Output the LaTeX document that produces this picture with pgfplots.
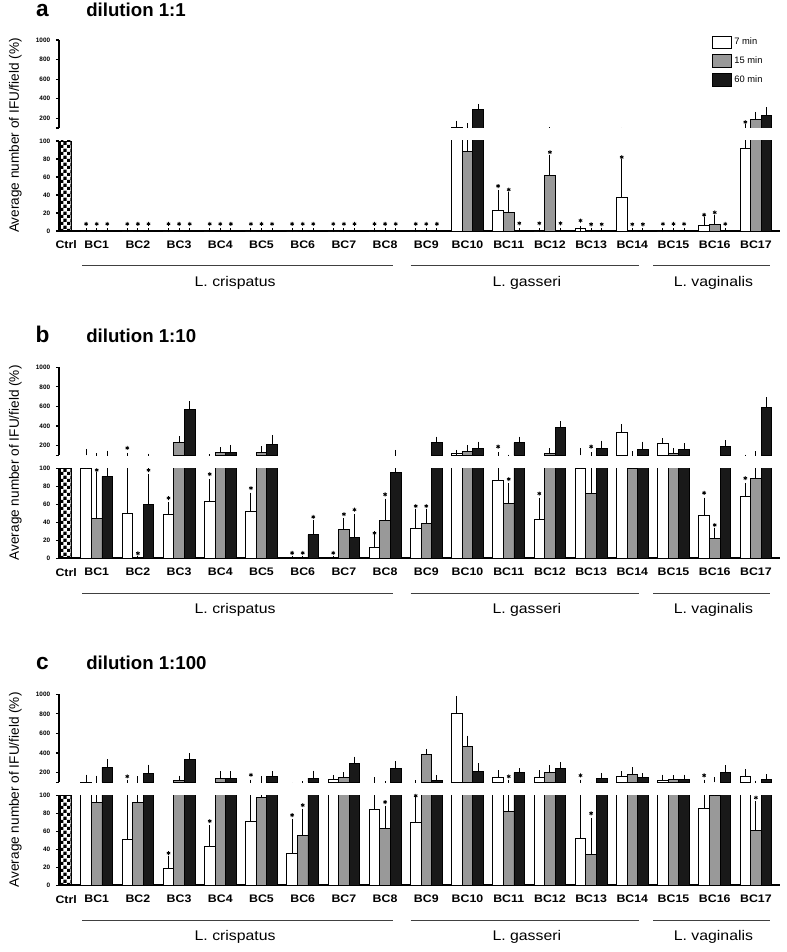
\documentclass[border=0pt]{standalone}
\usepackage{fontspec}
\setmainfont{Liberation Sans}
\newfontfamily\widefont[FakeStretch=1.13]{Liberation Sans}
\usepackage{pgfplots}
\usepackage{pgfplotstable}
\pgfplotsset{compat=1.18}
\usetikzlibrary{patterns}
\definecolor{bargray}{gray}{0.6}
\definecolor{barblack}{gray}{0.1}
\pgfdeclarepatternformonly{smallcheck}{\pgfqpoint{0pt}{0pt}}{\pgfqpoint{5pt}{5pt}}{\pgfqpoint{5pt}{5pt}}{%
  \pgfpathrectangle{\pgfqpoint{0pt}{0pt}}{\pgfqpoint{2.5pt}{2.5pt}}%
  \pgfpathrectangle{\pgfqpoint{2.5pt}{2.5pt}}{\pgfqpoint{2.5pt}{2.5pt}}%
  \pgfusepath{fill}}

% x w we g ge k ke  (value and upward error of 7, 15, 60 min bars)
\pgfplotstableread{
x w we g ge k ke
1 0 0 0 0 0 0
2 0 0 0 0 0 0
3 0 0 0 0 0 0
4 0 0 0 0 0 0
5 0 0 0 0 0 0
6 0 0 0 0 0 0
7 0 0 0 0 0 0
8 0 0 0 0 0 0
9 0 0 0 0 0 0
10 109 41 88 36 288 34
11 22.5 20.5 21 19.5 0 0
12 0 0 62 20 0 0
13 3 0 0 0 0 0
14 37.5 39.5 0 0 0 0
15 0 0 0 0 0 0
16 5.6 6.8 7 8.4 0 0
17 92 24 189 51 227 61
}\dataA
\pgfplotstableread{
x w we g ge k ke
1 100 39 44.7 48 91 30
2 50.2 49.8 0 0 60 31
3 49 10.3 228.5 42.5 569 58
4 63.6 21.9 128.6 28.4 128.6 53.4
5 52 18.2 128.6 39.4 207 75
6 0 0 0 0 26.2 13.8
7 0 0 31.6 10.2 23.6 22.9
8 12 11.6 41.8 21.8 95.3 33.3
9 33.5 18.1 38.9 12.7 230 34
10 120 10 138 41 165 48
11 86.5 17.5 61 19.7 230 34
12 43 21.7 114 34 384 37
13 100 48 71.6 32.4 165 58
14 336 58 100 15 155 58
15 223 27 114 34 155 44
16 48 16.7 22.5 8.5 189 41
17 68.4 12.3 89 25 589 79
}\dataB
\pgfplotstableread{
x w we g ge k ke
1 101 51 92.5 49.5 254 58
2 50.7 51.3 92.5 43.5 193 61
3 19 11.2 119 23 332 41
4 43.3 20.5 142 44 136 50
5 71.3 30.7 97.4 38.6 159 27
6 35.8 35.5 55.2 27.3 142 51
7 125 24 153 23 288 48
8 84.3 40.7 62.7 23.1 237 51
9 70.1 26.2 380 37 119 27
10 806 153 464 88 214 57
11 153 44 81.7 20.3 200 20
12 153 44 197 50 237 44
13 51.5 50.5 34.7 37.3 142 28
14 159 27 176 51 153 13
15 119 34 125 21 125 28
16 85.4 16.6 100 25 200 47
17 159 51 60.8 29.9 125 34
}\dataC

% significance stars (x, y)
\pgfplotstableread{
x y
0.743 7.9
1 7.9
1.257 7.9
1.743 7.9
2 7.9
2.257 7.9
2.743 7.9
3 7.9
3.257 7.9
3.743 7.9
4 7.9
4.257 7.9
4.743 7.9
5 7.9
5.257 7.9
5.743 7.9
6 7.9
6.257 7.9
6.743 7.9
7 7.9
7.257 7.9
7.743 7.9
8 7.9
8.257 7.9
8.743 7.9
9 7.9
9.257 7.9
10.743 50
11 46
11.257 8.6
11.743 8.6
12 87.5
12.257 8.6
12.743 11.6
13 7.5
13.257 7.5
13.743 82
14 7.5
14.257 7.5
14.743 7.9
15 7.9
15.257 7.9
15.743 18
16 20.6
16.257 7.9
}\starsAlow
\pgfplotstableread{
x y
16.743 160
}\starsAup
\pgfplotstableread{
x y
1 98
2 5.5
2.257 98
2.743 67
3.743 93.5
4.743 78
5.743 6
6 6
6.257 46
6.743 6
7 49
7.257 54
7.743 28
8 71
8.743 58
9 58
11 88
11.743 72
15.743 72.7
16 37
16.743 89
}\starsBlow
\pgfplotstableread{
x y
1.743 175
10.743 189
13 189
}\starsBup
\pgfplotstableread{
x y
2.743 35.8
3.743 71.3
5.743 78
6 89
8 92.5
8.743 99.5
13 80
17 97.4
}\starsClow
\pgfplotstableread{
x y
1.743 160
4.743 176
11 160
12.743 170
15.743 170
}\starsCup

\pgfplotsset{
  barbase/.style={ybar, bar width=0.257, bar shift=0, draw=black, line width=0.7pt},
  errstyle/.style={error bars/y dir=plus, error bars/y explicit,
    error bars/error bar style={line width=0.7pt, draw=black, solid},
    error bars/error mark options={line width=0.7pt, draw=black, solid, mark size=1.9pt}},
  erronly/.style={draw=none, mark=none, forget plot, errstyle},
  starplot/.style={only marks, mark=asterisk, mark size=1.5pt,
    mark options={line width=0.6pt, black}},
  common/.style={scale only axis, width=540.75pt, xmin=0.085, xmax=17.585,
    anchor=south west, axis y line*=left,
    axis line style={line width=1.4pt, black},
    tick align=outside, major tick length=2.3pt,
    ytick style={line width=0.9pt, black},
    yticklabel style={font=\bfseries\fontsize{4.8}{5}\selectfont, xshift=-0.8pt},
    /pgf/number format/assume math mode=true,
    /pgf/number format/1000 sep={},
    clip mode=individual},
  lowerax/.style={common, height=67.5pt, ymin=0, ymax=100,
    ytick={0,20,40,60,80,100}, axis x line*=bottom,
    xtick={0.26,1,2,3,4,5,6,7,8,9,10,11,12,13,14,15,16,17},
    xticklabels={Ctrl,BC1,BC2,BC3,BC4,BC5,BC6,BC7,BC8,BC9,BC10,BC11,BC12,BC13,BC14,BC15,BC16,BC17},
    xtick style={draw=none},
    xticklabel style={font=\widefont\bfseries\fontsize{8.2}{9}\selectfont, yshift=-1.5pt},
    ylabel={Average number of IFU/field (\%)},
    ylabel style={at={(axis description cs:-0.0606,1.061)}, anchor=center,
      font=\fontsize{10.2}{12}\selectfont}},
  upperax/.style={common, height=66pt, ymin=100, ymax=1000,
    ytick={200,400,600,800,1000}, extra y ticks={100}, extra y tick labels={},
    axis x line=none, xtick=\empty},
}

% lower (0-100) part: bars with their error bars, clipped at 100
\newcommand{\lowerbars}[1]{%
  \addplot[barbase, fill=white, errstyle] table[x expr=\thisrow{x}-0.257,y=w,y error=we]{#1};
  \addplot[barbase, fill=bargray, errstyle] table[x=x,y=g,y error=ge]{#1};
  \addplot[barbase, fill=barblack, errstyle] table[x expr=\thisrow{x}+0.257,y=k,y error=ke]{#1};
}
% upper (100-1000) part: only bars above 100, and all error bars
\newcommand{\upperbars}[1]{%
  \addplot[barbase, fill=white, restrict y to domain=100.5:5000] table[x expr=\thisrow{x}-0.257,y=w]{#1};
  \addplot[barbase, fill=bargray, restrict y to domain=100.5:5000] table[x=x,y=g]{#1};
  \addplot[barbase, fill=barblack, restrict y to domain=100.5:5000] table[x expr=\thisrow{x}+0.257,y=k]{#1};
  \addplot[erronly] table[x expr=\thisrow{x}-0.257,y=w,y error=we]{#1};
  \addplot[erronly] table[x=x,y=g,y error=ge]{#1};
  \addplot[erronly] table[x expr=\thisrow{x}+0.257,y=k,y error=ke]{#1};
}
\newcommand{\ctrlbar}{%
  \addplot[ybar, bar width=0.26, bar shift=0, draw=black, line width=0.7pt,
    pattern=smallcheck, pattern color=black] coordinates {(0.26,100)};
}
\newcommand{\species}{%
  \draw[line width=0.6pt, black!75] (axis cs:0.65,-38.6) -- (axis cs:8.2,-38.6);
  \draw[line width=0.6pt, black!75] (axis cs:8.62,-38.6) -- (axis cs:14.17,-38.6);
  \draw[line width=0.6pt, black!75] (axis cs:14.51,-38.6) -- (axis cs:17.34,-38.6);
  \node[font=\widefont\fontsize{10.5}{12}\selectfont] at (axis cs:4.36,-57.8) {L. crispatus};
  \node[font=\widefont\fontsize{10.5}{12}\selectfont] at (axis cs:11.44,-57.8) {L. gasseri};
  \node[font=\widefont\fontsize{10.5}{12}\selectfont] at (axis cs:15.97,-57.8) {L. vaginalis};
}

\begin{document}
\begin{tikzpicture}
\useasboundingbox (0,0) rectangle (590.25pt,-714pt);

% ---------------- panel a ----------------
\node[font=\bfseries\fontsize{17}{19}\selectfont, anchor=base, inner sep=0pt] at (31.9pt,-12.3pt) {a};
\node[font=\bfseries\fontsize{14}{16}\selectfont, anchor=base west, inner sep=0pt] at (64.5pt,-12.3pt) {dilution 1:1};
\begin{axis}[upperax, at={(44.25pt,-96pt)},
  legend image code/.code={\draw[#1] (0pt,-4.8pt) rectangle (14.3pt,4.8pt);},
  legend style={at={(0.905,1.055)}, anchor=north west, draw=none, fill=none,
    font=\fontsize{7}{8}\selectfont, row sep=3.4pt, inner sep=0pt},
  legend cell align=left]
  \addlegendimage{draw=black, line width=0.7pt, fill=white}
  \addlegendentry{7 min}
  \addlegendimage{draw=black, line width=0.7pt, fill=bargray}
  \addlegendentry{15 min}
  \addlegendimage{draw=black, line width=0.7pt, fill=barblack}
  \addlegendentry{60 min}
  \upperbars{\dataA}
  \addplot[starplot] table[x=x,y=y]{\starsAup};
\end{axis}
\begin{axis}[lowerax, at={(44.25pt,-173.25pt)}]
  \ctrlbar
  \lowerbars{\dataA}
  \addplot[starplot] table[x=x,y=y]{\starsAlow};
  \species
\end{axis}

% ---------------- panel b ----------------
\node[font=\bfseries\fontsize{17}{19}\selectfont, anchor=base, inner sep=0pt] at (31.9pt,-257.1pt) {b};
\node[font=\bfseries\fontsize{14}{16}\selectfont, anchor=base west, inner sep=0pt] at (64.5pt,-257.1pt) {dilution 1:10};
\begin{axis}[upperax, at={(44.25pt,-341.475pt)}]
  \upperbars{\dataB}
  \addplot[starplot] table[x=x,y=y]{\starsBup};
\end{axis}
\begin{axis}[lowerax, at={(44.25pt,-418.725pt)}]
  \ctrlbar
  \lowerbars{\dataB}
  \addplot[starplot] table[x=x,y=y]{\starsBlow};
  \species
\end{axis}

% ---------------- panel c ----------------
\node[font=\bfseries\fontsize{17}{19}\selectfont, anchor=base, inner sep=0pt] at (31.9pt,-502.35pt) {c};
\node[font=\bfseries\fontsize{14}{16}\selectfont, anchor=base west, inner sep=0pt] at (64.5pt,-502.35pt) {dilution 1:100};
\begin{axis}[upperax, at={(44.25pt,-586.725pt)}]
  \upperbars{\dataC}
  \addplot[starplot] table[x=x,y=y]{\starsCup};
\end{axis}
\begin{axis}[lowerax, at={(44.25pt,-663.975pt)}]
  \ctrlbar
  \lowerbars{\dataC}
  \addplot[starplot] table[x=x,y=y]{\starsClow};
  \species
\end{axis}
\end{tikzpicture}
\end{document}
